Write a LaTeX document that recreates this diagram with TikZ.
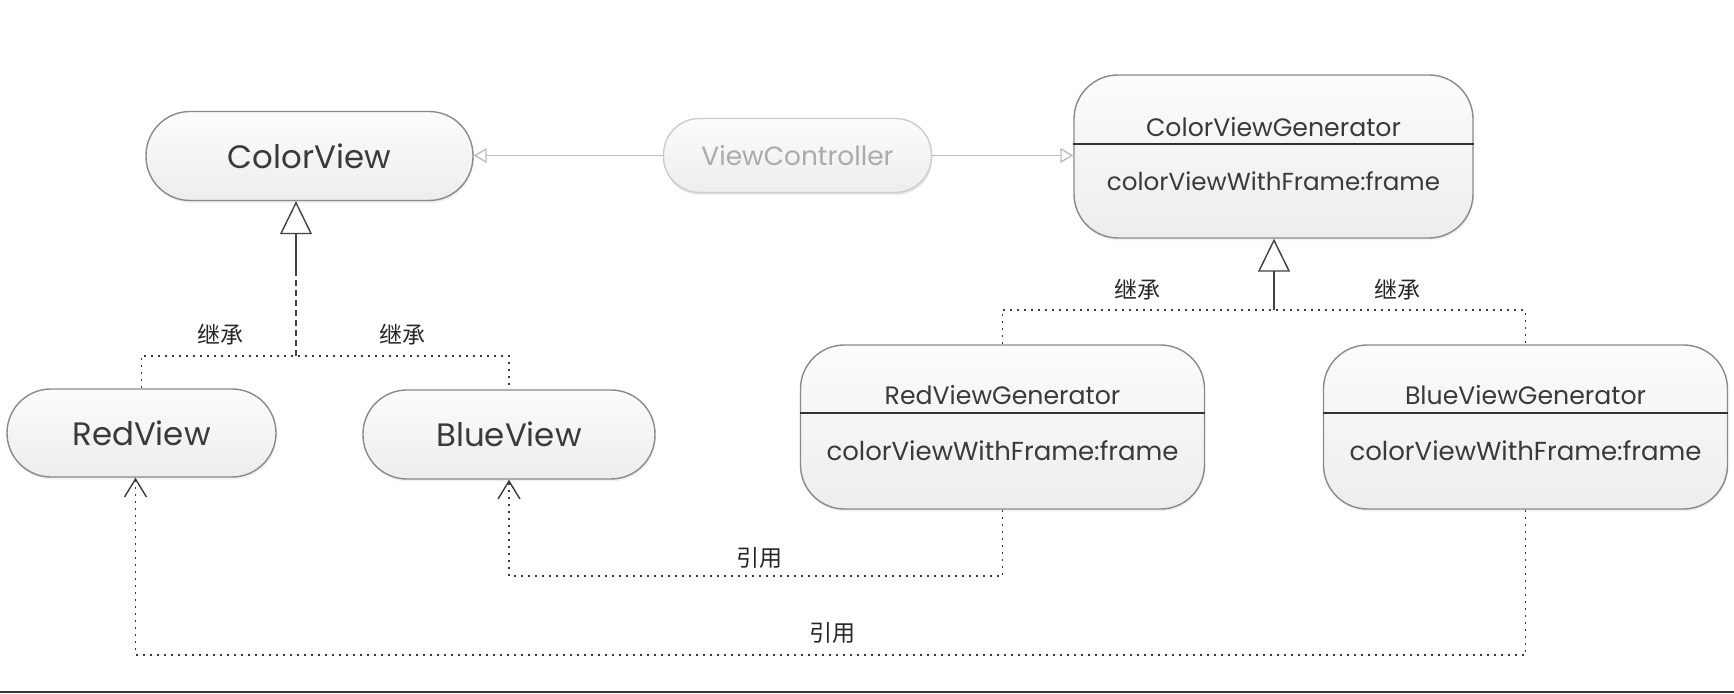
\documentclass[tikz,border=0pt]{standalone}
\usepackage{fontspec}
\setmainfont{Poppins}
\newfontfamily\cjk{Noto Sans CJK SC}
\usetikzlibrary{arrows.meta,shadows,calc}
\definecolor{bordergray}{HTML}{8A8A8A}
\definecolor{lightborder}{HTML}{CCCCCC}
\definecolor{txt}{HTML}{3A3A3A}
\definecolor{vctxt}{HTML}{ABABAB}
\definecolor{linegray}{HTML}{BDBDBD}
\definecolor{dotgray}{HTML}{3A3A3A}
\definecolor{fillTop}{HTML}{FCFCFC}
\definecolor{fillBot}{HTML}{EDEDED}
\begin{document}
\begin{tikzpicture}[x=0.5pt,y=-0.5pt,
  box/.style={draw=bordergray, line width=0.7pt, top color=fillTop, bottom color=fillBot,
    drop shadow={opacity=0.12, shadow xshift=0.4pt, shadow yshift=-1.2pt},
    inner sep=0pt, text=txt},
  pilltext/.style={font=\fontsize{16.2}{18}\selectfont},
  gen/.style={box, rounded corners=22pt, minimum width=202pt, minimum height=82pt},
  gentext/.style={text=txt, inner sep=0pt, font=\fontsize{12.6}{15}\selectfont},
  divider/.style={draw=black!80, line width=0.9pt},
  lbl/.style={text=black!85, inner sep=0pt, font=\cjk\fontsize{11.5}{13}\selectfont},
  dotline/.style={draw=dotgray, line width=0.8pt, dash pattern=on 1pt off 2.5pt},
  dashline/.style={draw=black!75, line width=0.7pt, dash pattern=on 3pt off 2pt},
  solidline/.style={draw=black!75, line width=0.7pt},
  grayline/.style={draw=linegray, line width=0.7pt},
  inh/.style={-{Triangle[open, length=16.5pt, width=16pt, line width=0.7pt]}},
  opentri/.style={-{Triangle[open, length=6.5pt, width=7.5pt]}},
  barb/.style={-{Straight Barb[length=9pt, width=11pt, line width=0.7pt]}}
]
\useasboundingbox (0,0) rectangle (1734,694);

% pill nodes
\node[box, pilltext, rounded corners=22pt, minimum width=163.5pt, minimum height=44.5pt] (cv) at (309.5,156) {ColorView};
\node[box, draw=lightborder, text=vctxt, rounded corners=18pt, minimum width=134pt, minimum height=37pt,
      font=\fontsize{13.2}{15}\selectfont, drop shadow={opacity=0.06, shadow xshift=0.4pt, shadow yshift=-1.2pt}] (vc) at (797.5,155.5) {ViewController};
\node[box, pilltext, rounded corners=22pt, minimum width=134.5pt, minimum height=44pt] (rv) at (141.5,433) {RedView};
\node[box, pilltext, rounded corners=22pt, minimum width=146pt, minimum height=44.5pt] (bv) at (509,434.5) {BlueView};

% generator boxes
\node[gen, minimum width=199.5pt, minimum height=81.5pt] (cvg) at (1273.5,156.5) {};
\draw[divider] (cvg.west |- 0,144) -- (cvg.east |- 0,144);
\node[gentext] (cvgt) at (1273.5,127) {ColorViewGenerator};
\node[gentext, font=\fontsize{12.3}{15}\selectfont] (cvgm) at (1273.5,181) {colorViewWithFrame:frame};

\node[gen] (rvg) at (1002.5,427) {};
\draw[divider] (rvg.west |- 0,413) -- (rvg.east |- 0,413);
\node[gentext] (rvgt) at (1002.5,395) {RedViewGenerator};
\node[gentext, font=\fontsize{13}{15}\selectfont] (rvgm) at (1002.5,451) {colorViewWithFrame:frame};

\node[gen] (bvg) at (1525.5,427) {};
\draw[divider] (bvg.west |- 0,413) -- (bvg.east |- 0,413);
\node[gentext] (bvgt) at (1525.5,395) {BlueViewGenerator};
\node[gentext, font=\fontsize{13}{15}\selectfont] (bvgm) at (1525.5,451) {colorViewWithFrame:frame};

% ViewController associations
\draw[grayline, opentri] (vc.west) -- (vc.west -| cv.east);
\draw[grayline, opentri] (vc.east) -- (vc.east -| cvg.west);

% inheritance: ColorView
\coordinate (j1) at (296,356);
\draw[dotline] (rv.north) |- (j1) -| (bv.north);
\draw[dashline, inh] (j1) -- (cv.south -| j1);
\draw[solidline] ($(cv.south -| j1)+(0,33)$) -- ($(cv.south -| j1)+(0,72)$);
\node[lbl] (l1) at (220,335) {继承};
\node[lbl] (l2) at (402,335) {继承};

% inheritance: ColorViewGenerator
\coordinate (j2) at (1274,310);
\draw[dotline] (rvg.north) |- (j2) -| (bvg.north);
\draw[solidline, inh] (j2) -- (cvg.south -| j2);
\node[lbl] (l3) at (1137,290) {继承};
\node[lbl] (l4) at (1397,290) {继承};

% references
\coordinate (r1) at (0,576);
\draw[dotline, barb] (rvg.south) |- (r1 -| bv.south) -- (bv.south);
\node[lbl] (l5) at (759,558) {引用};
\coordinate (r2) at (0,655);
\coordinate (rvin) at ([xshift=-3pt]rv.south);
\draw[dotline, barb] (bvg.south) |- (r2 -| rvin) -- (rvin);
\node[lbl] (l6) at (832,633) {引用};

% bottom border
\coordinate (b1) at (0,692);
\coordinate (b2) at (1734,692);
\draw[draw=black!80, line width=1.2pt] (b1) -- (b2);
\end{tikzpicture}
\end{document}
